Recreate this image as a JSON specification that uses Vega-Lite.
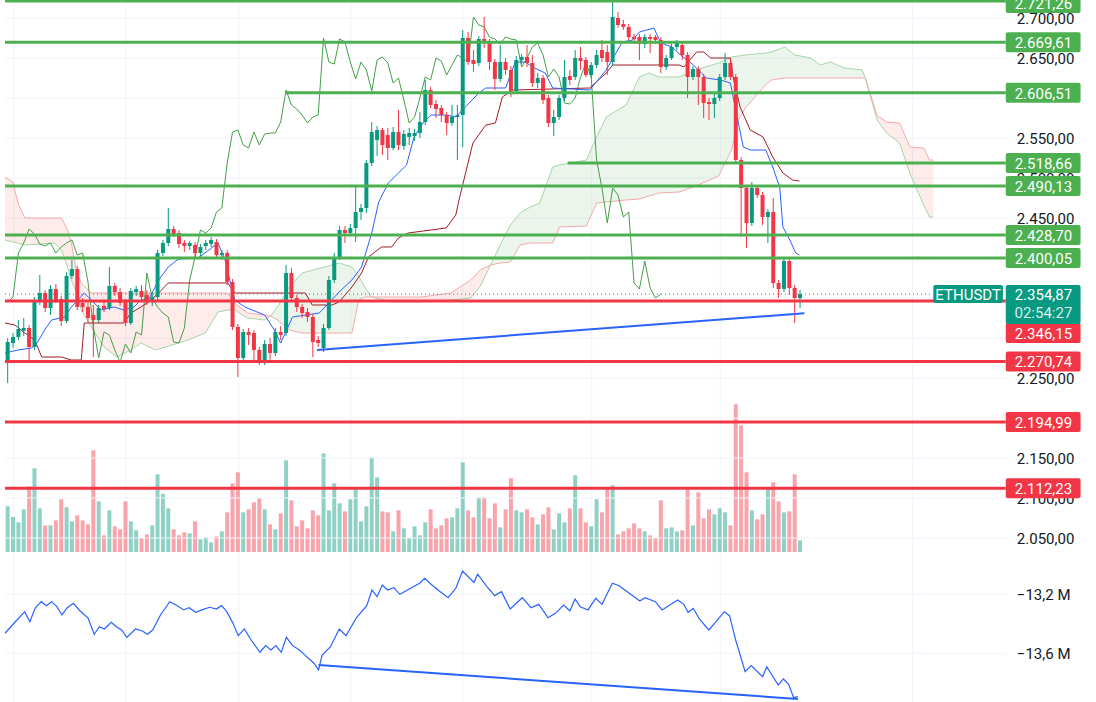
{
"$schema": "https://vega.github.io/schema/vega-lite/v6.json",
"width": 1096,
"height": 702,
"autosize": {"type": "none"},
"padding": 0,
"background": "#ffffff",
"config": {"view": {"stroke": null}},
"datasets": {
"candles": [
{"i":0,"o":2268.75,"h":2300,"l":2243.75,"c":2295,"v":137,"dir":"up","lag":2345},
{"i":1,"o":2293.75,"h":2306.25,"l":2287.5,"c":2301.25,"v":105,"dir":"up","lag":2351.25},
{"i":2,"o":2301.25,"h":2322.5,"l":2297.5,"c":2311.25,"v":89,"dir":"up","lag":2406.25},
{"i":3,"o":2309,"h":2325,"l":2302.5,"c":2312.5,"v":128,"dir":"up","lag":2418.75},
{"i":4,"o":2312.5,"h":2316.25,"l":2270,"c":2288.75,"v":197,"dir":"down","lag":2436.25},
{"i":5,"o":2288.75,"h":2351.25,"l":2285,"c":2347.5,"v":251,"dir":"up","lag":2430},
{"i":6,"o":2345,"h":2378.75,"l":2341.25,"c":2356.25,"v":131,"dir":"up","lag":2417.5},
{"i":7,"o":2356.25,"h":2360,"l":2332.5,"c":2337.5,"v":80,"dir":"down","lag":2415},
{"i":8,"o":2337.5,"h":2366.25,"l":2328.75,"c":2361.25,"v":80,"dir":"up","lag":2418.75},
{"i":9,"o":2361.25,"h":2367.5,"l":2343.75,"c":2347.5,"v":95,"dir":"down","lag":2406.25},
{"i":10,"o":2348.75,"h":2352.5,"l":2315,"c":2321.25,"v":158,"dir":"down","lag":2413.75},
{"i":11,"o":2321.25,"h":2382.5,"l":2318.75,"c":2377.5,"v":134,"dir":"up","lag":2418.75},
{"i":12,"o":2377.5,"h":2397.5,"l":2373.75,"c":2386.25,"v":92,"dir":"up","lag":2422.5},
{"i":13,"o":2386.25,"h":2390,"l":2335,"c":2338.75,"v":110,"dir":"down","lag":2403.75},
{"i":14,"o":2343.75,"h":2350,"l":2332.5,"c":2338.75,"v":95,"dir":"down","lag":2406.25},
{"i":15,"o":2338.75,"h":2343.75,"l":2320,"c":2325,"v":83,"dir":"down","lag":2370},
{"i":16,"o":2328.75,"h":2341.25,"l":2276.25,"c":2322.5,"v":305,"dir":"down","lag":2313.75},
{"i":17,"o":2322.5,"h":2341.25,"l":2318.75,"c":2337.5,"v":152,"dir":"up","lag":2275},
{"i":18,"o":2340,"h":2345,"l":2332.5,"c":2336.25,"v":50,"dir":"down","lag":2307.5},
{"i":19,"o":2337.5,"h":2388.75,"l":2335,"c":2365,"v":125,"dir":"up","lag":2303.75},
{"i":20,"o":2365,"h":2368.75,"l":2352.5,"c":2357.5,"v":77,"dir":"down","lag":2285},
{"i":21,"o":2357.5,"h":2362.5,"l":2340,"c":2343.75,"v":68,"dir":"down","lag":2270},
{"i":22,"o":2345,"h":2348.75,"l":2315,"c":2318.75,"v":152,"dir":"down","lag":2292.5},
{"i":23,"o":2318.75,"h":2362.5,"l":2316.25,"c":2358.75,"v":92,"dir":"up","lag":2281.25},
{"i":24,"o":2357.5,"h":2365,"l":2352.5,"c":2361.25,"v":65,"dir":"up","lag":2307.5},
{"i":25,"o":2358.75,"h":2366.25,"l":2347.5,"c":2351.25,"v":41,"dir":"down","lag":2303.75},
{"i":26,"o":2353.75,"h":2360,"l":2341.25,"c":2345,"v":53,"dir":"down","lag":2381.25},
{"i":27,"o":2345,"h":2357.5,"l":2340,"c":2351.25,"v":80,"dir":"up","lag":2350},
{"i":28,"o":2351.25,"h":2410,"l":2347.5,"c":2406.25,"v":233,"dir":"up","lag":2338.75},
{"i":29,"o":2406.25,"h":2422.5,"l":2402.5,"c":2418.75,"v":175,"dir":"up","lag":2331.25},
{"i":30,"o":2418.75,"h":2462.5,"l":2415,"c":2436.25,"v":131,"dir":"up","lag":2326.25},
{"i":31,"o":2436.25,"h":2440,"l":2426.25,"c":2430,"v":68,"dir":"down","lag":2295},
{"i":32,"o":2431.25,"h":2435,"l":2412.5,"c":2417.5,"v":50,"dir":"down","lag":2293.75},
{"i":33,"o":2418.75,"h":2422.5,"l":2407.5,"c":2415,"v":59,"dir":"down","lag":2312.5},
{"i":34,"o":2415,"h":2421.25,"l":2410,"c":2418.75,"v":56,"dir":"up","lag":2372.5},
{"i":35,"o":2416.25,"h":2420,"l":2400,"c":2406.25,"v":92,"dir":"down","lag":2401.25},
{"i":36,"o":2406.25,"h":2417.5,"l":2402.5,"c":2413.75,"v":38,"dir":"up","lag":2435},
{"i":37,"o":2415,"h":2422.5,"l":2410,"c":2418.75,"v":44,"dir":"up","lag":2431.25},
{"i":38,"o":2417.5,"h":2426.25,"l":2413.75,"c":2422.5,"v":29,"dir":"up","lag":2437.5},
{"i":39,"o":2420,"h":2423.75,"l":2400,"c":2403.75,"v":47,"dir":"down","lag":2457.5},
{"i":40,"o":2403.75,"h":2410,"l":2397.5,"c":2406.25,"v":62,"dir":"up","lag":2462.5},
{"i":41,"o":2406.25,"h":2410,"l":2366.25,"c":2370,"v":119,"dir":"down","lag":2518.75},
{"i":42,"o":2370,"h":2373.75,"l":2310,"c":2313.75,"v":206,"dir":"down","lag":2557.5},
{"i":43,"o":2313.75,"h":2317.5,"l":2251.25,"c":2275,"v":239,"dir":"down","lag":2560},
{"i":44,"o":2275,"h":2311.25,"l":2271.25,"c":2307.5,"v":119,"dir":"up","lag":2541.25},
{"i":45,"o":2307.5,"h":2312.5,"l":2291.25,"c":2303.75,"v":128,"dir":"down","lag":2537.5},
{"i":46,"o":2306.25,"h":2310,"l":2272.5,"c":2285,"v":149,"dir":"down","lag":2557.5},
{"i":47,"o":2285,"h":2288.75,"l":2266.25,"c":2270,"v":161,"dir":"down","lag":2541.25},
{"i":48,"o":2270,"h":2297.5,"l":2266.25,"c":2292.5,"v":128,"dir":"up","lag":2555},
{"i":49,"o":2292.5,"h":2300,"l":2270,"c":2281.25,"v":83,"dir":"down","lag":2556.25},
{"i":50,"o":2281.25,"h":2312.5,"l":2277.5,"c":2307.5,"v":68,"dir":"up","lag":2556.25},
{"i":51,"o":2307.5,"h":2315,"l":2297.5,"c":2303.75,"v":116,"dir":"down","lag":2570},
{"i":52,"o":2306.25,"h":2391.25,"l":2302.5,"c":2381.25,"v":275,"dir":"up","lag":2610},
{"i":53,"o":2381.25,"h":2387.5,"l":2345,"c":2350,"v":155,"dir":"down","lag":2591.25},
{"i":54,"o":2350,"h":2353.75,"l":2332.5,"c":2338.75,"v":77,"dir":"down","lag":2586.25},
{"i":55,"o":2338.75,"h":2342.5,"l":2325,"c":2331.25,"v":95,"dir":"down","lag":2578.75},
{"i":56,"o":2332.5,"h":2337.5,"l":2320,"c":2326.25,"v":71,"dir":"down","lag":2568.75},
{"i":57,"o":2326.25,"h":2330,"l":2276.25,"c":2295,"v":125,"dir":"down","lag":2576.25},
{"i":58,"o":2297.5,"h":2302.5,"l":2288.75,"c":2293.75,"v":110,"dir":"down","lag":2578.75},
{"i":59,"o":2287.5,"h":2317.5,"l":2282.5,"c":2312.5,"v":296,"dir":"up","lag":2675},
{"i":60,"o":2312.5,"h":2377.5,"l":2310,"c":2372.5,"v":125,"dir":"up","lag":2645},
{"i":61,"o":2372.5,"h":2406.25,"l":2368.75,"c":2401.25,"v":206,"dir":"up","lag":2642.5},
{"i":62,"o":2401.25,"h":2440,"l":2397.5,"c":2435,"v":146,"dir":"up","lag":2673.75},
{"i":63,"o":2435,"h":2440,"l":2418.75,"c":2431.25,"v":122,"dir":"down","lag":2670},
{"i":64,"o":2431.25,"h":2442.5,"l":2427.5,"c":2437.5,"v":158,"dir":"up","lag":2645},
{"i":65,"o":2437.5,"h":2491.25,"l":2420,"c":2457.5,"v":194,"dir":"up","lag":2623.75},
{"i":66,"o":2457.5,"h":2467.5,"l":2447.5,"c":2462.5,"v":92,"dir":"up","lag":2645},
{"i":67,"o":2462.5,"h":2522.5,"l":2456.25,"c":2518.75,"v":137,"dir":"up","lag":2635},
{"i":68,"o":2518.75,"h":2570,"l":2515,"c":2557.5,"v":284,"dir":"up","lag":2608.75},
{"i":69,"o":2547.5,"h":2565,"l":2527.5,"c":2560,"v":224,"dir":"up","lag":2647.5},
{"i":70,"o":2560,"h":2562.5,"l":2528.75,"c":2541.25,"v":122,"dir":"down","lag":2651.25},
{"i":71,"o":2553.75,"h":2562.5,"l":2522.5,"c":2537.5,"v":119,"dir":"down","lag":2643.75},
{"i":72,"o":2537.5,"h":2563.75,"l":2535,"c":2557.5,"v":62,"dir":"up","lag":2618.75},
{"i":73,"o":2557.5,"h":2585,"l":2535,"c":2541.25,"v":125,"dir":"down","lag":2625},
{"i":74,"o":2540,"h":2560,"l":2535,"c":2555,"v":71,"dir":"up","lag":2597.5},
{"i":75,"o":2551.25,"h":2562.5,"l":2541.25,"c":2556.25,"v":41,"dir":"up","lag":2568.75},
{"i":76,"o":2552.5,"h":2561.25,"l":2546.25,"c":2556.25,"v":77,"dir":"up","lag":2576.25},
{"i":77,"o":2556.25,"h":2582.5,"l":2550,"c":2570,"v":50,"dir":"up","lag":2600},
{"i":78,"o":2570,"h":2622.5,"l":2566.25,"c":2610,"v":89,"dir":"up","lag":2626.25},
{"i":79,"o":2610,"h":2613.75,"l":2587.5,"c":2591.25,"v":128,"dir":"down","lag":2622.5},
{"i":80,"o":2592.5,"h":2597.5,"l":2575,"c":2586.25,"v":71,"dir":"down","lag":2650},
{"i":81,"o":2587.5,"h":2591.25,"l":2570,"c":2578.75,"v":80,"dir":"down","lag":2646.25},
{"i":82,"o":2578.75,"h":2582.5,"l":2553.75,"c":2568.75,"v":101,"dir":"down","lag":2628.75},
{"i":83,"o":2568.75,"h":2591.25,"l":2565,"c":2576.25,"v":104,"dir":"up","lag":2641.25},
{"i":84,"o":2576.25,"h":2591.25,"l":2522.5,"c":2578.75,"v":131,"dir":"up","lag":2653.75},
{"i":85,"o":2578.75,"h":2685,"l":2538.75,"c":2675,"v":269,"dir":"up","lag":2650},
{"i":86,"o":2675,"h":2682.5,"l":2641.25,"c":2645,"v":125,"dir":"down","lag":2645},
{"i":87,"o":2647.5,"h":2660,"l":2632.5,"c":2642.5,"v":104,"dir":"down","lag":2701.25},
{"i":88,"o":2643.75,"h":2677.5,"l":2640,"c":2673.75,"v":164,"dir":"up","lag":2691.25},
{"i":89,"o":2673.75,"h":2701.25,"l":2662.5,"c":2670,"v":164,"dir":"down","lag":2688.75},
{"i":90,"o":2670,"h":2673.75,"l":2635,"c":2645,"v":101,"dir":"down","lag":2676.25},
{"i":91,"o":2645,"h":2648.75,"l":2610,"c":2623.75,"v":146,"dir":"down","lag":2673.75},
{"i":92,"o":2623.75,"h":2666.25,"l":2620,"c":2645,"v":74,"dir":"up","lag":2667.5},
{"i":93,"o":2645,"h":2650,"l":2628.75,"c":2635,"v":128,"dir":"down","lag":2676.25},
{"i":94,"o":2635,"h":2640,"l":2601.25,"c":2608.75,"v":221,"dir":"down","lag":2673.75},
{"i":95,"o":2608.75,"h":2652.5,"l":2605,"c":2647.5,"v":125,"dir":"up","lag":2672.5},
{"i":96,"o":2647.5,"h":2655,"l":2642.5,"c":2651.25,"v":119,"dir":"up","lag":2638.75},
{"i":97,"o":2651.25,"h":2666.25,"l":2638.75,"c":2643.75,"v":128,"dir":"down","lag":2650},
{"i":98,"o":2643.75,"h":2653.75,"l":2613.75,"c":2618.75,"v":104,"dir":"down","lag":2663.75},
{"i":99,"o":2618.75,"h":2631.25,"l":2612.5,"c":2625,"v":83,"dir":"up","lag":2668.75},
{"i":100,"o":2625,"h":2628.75,"l":2592.5,"c":2597.5,"v":113,"dir":"down","lag":2653.75},
{"i":101,"o":2600,"h":2603.75,"l":2563.75,"c":2568.75,"v":134,"dir":"down","lag":2626.25},
{"i":102,"o":2568.75,"h":2585,"l":2552.5,"c":2576.25,"v":68,"dir":"up","lag":2636.25},
{"i":103,"o":2576.25,"h":2603.75,"l":2572.5,"c":2600,"v":116,"dir":"up","lag":2626.25},
{"i":104,"o":2600,"h":2647.5,"l":2596.25,"c":2626.25,"v":89,"dir":"up","lag":2593.75},
{"i":105,"o":2627.5,"h":2635,"l":2616.25,"c":2622.5,"v":131,"dir":"down","lag":2592.5},
{"i":106,"o":2626.25,"h":2660,"l":2622.5,"c":2650,"v":230,"dir":"up","lag":2600},
{"i":107,"o":2650,"h":2663.75,"l":2635,"c":2646.25,"v":131,"dir":"down","lag":2626.25},
{"i":108,"o":2647.5,"h":2651.25,"l":2626.25,"c":2628.75,"v":89,"dir":"down","lag":2643.75},
{"i":109,"o":2628.75,"h":2645,"l":2625,"c":2641.25,"v":77,"dir":"up","lag":2626.25},
{"i":110,"o":2641.25,"h":2660,"l":2637.5,"c":2653.75,"v":158,"dir":"up","lag":2522.5},
{"i":111,"o":2660,"h":2672.5,"l":2645,"c":2650,"v":119,"dir":"down","lag":2487.5},
{"i":112,"o":2657.5,"h":2666.25,"l":2628.75,"c":2645,"v":188,"dir":"down","lag":2443.75},
{"i":113,"o":2645,"h":2721.25,"l":2640,"c":2701.25,"v":200,"dir":"up","lag":2487.5},
{"i":114,"o":2700,"h":2707.5,"l":2687.5,"c":2691.25,"v":53,"dir":"down","lag":2478.75},
{"i":115,"o":2692.5,"h":2697.5,"l":2685,"c":2688.75,"v":62,"dir":"down","lag":2451.25},
{"i":116,"o":2688.75,"h":2692.5,"l":2672.5,"c":2676.25,"v":71,"dir":"down","lag":2457.5},
{"i":117,"o":2676.25,"h":2680,"l":2667.5,"c":2673.75,"v":86,"dir":"down","lag":2368.75},
{"i":118,"o":2676.25,"h":2680,"l":2647.5,"c":2667.5,"v":71,"dir":"down","lag":2361.25},
{"i":119,"o":2667.5,"h":2680,"l":2662.5,"c":2676.25,"v":62,"dir":"up","lag":2396.25},
{"i":120,"o":2676.25,"h":2680,"l":2656.25,"c":2673.75,"v":50,"dir":"down","lag":2362.5},
{"i":121,"o":2676.25,"h":2678.75,"l":2667.5,"c":2672.5,"v":41,"dir":"down","lag":2350},
{"i":122,"o":2672.5,"h":2676.25,"l":2631.25,"c":2638.75,"v":155,"dir":"down","lag":2354.87},
{"i":123,"o":2638.75,"h":2653.75,"l":2635,"c":2650,"v":71,"dir":"up"},
{"i":124,"o":2650,"h":2667.5,"l":2647.5,"c":2663.75,"v":74,"dir":"up"},
{"i":125,"o":2663.75,"h":2672.5,"l":2660,"c":2668.75,"v":62,"dir":"up"},
{"i":126,"o":2666.25,"h":2670,"l":2647.5,"c":2653.75,"v":65,"dir":"down"},
{"i":127,"o":2653.75,"h":2657.5,"l":2600,"c":2626.25,"v":188,"dir":"down"},
{"i":128,"o":2626.25,"h":2640,"l":2622.5,"c":2636.25,"v":80,"dir":"up"},
{"i":129,"o":2636.25,"h":2640,"l":2591.25,"c":2626.25,"v":179,"dir":"down"},
{"i":130,"o":2626.25,"h":2630,"l":2575,"c":2593.75,"v":101,"dir":"down"},
{"i":131,"o":2595,"h":2600,"l":2572.5,"c":2592.5,"v":128,"dir":"down"},
{"i":132,"o":2592.5,"h":2607.5,"l":2575,"c":2600,"v":113,"dir":"up"},
{"i":133,"o":2600,"h":2630,"l":2596.25,"c":2626.25,"v":131,"dir":"up"},
{"i":134,"o":2626.25,"h":2656.25,"l":2622.5,"c":2643.75,"v":119,"dir":"up"},
{"i":135,"o":2643.75,"h":2647.5,"l":2622.5,"c":2626.25,"v":80,"dir":"down"},
{"i":136,"o":2626.25,"h":2630,"l":2518.75,"c":2522.5,"v":443,"dir":"down"},
{"i":137,"o":2522.5,"h":2526.25,"l":2426.25,"c":2487.5,"v":380,"dir":"down"},
{"i":138,"o":2487.5,"h":2491.25,"l":2412.5,"c":2443.75,"v":239,"dir":"down"},
{"i":139,"o":2443.75,"h":2495,"l":2440,"c":2487.5,"v":125,"dir":"up"},
{"i":140,"o":2487.5,"h":2491.25,"l":2475,"c":2478.75,"v":98,"dir":"down"},
{"i":141,"o":2478.75,"h":2482.5,"l":2441.25,"c":2451.25,"v":113,"dir":"down"},
{"i":142,"o":2451.25,"h":2461.25,"l":2418.75,"c":2457.5,"v":194,"dir":"up"},
{"i":143,"o":2457.5,"h":2475,"l":2362.5,"c":2368.75,"v":209,"dir":"down"},
{"i":144,"o":2368.75,"h":2372.5,"l":2350,"c":2361.25,"v":152,"dir":"down"},
{"i":145,"o":2361.25,"h":2400,"l":2357.5,"c":2396.25,"v":119,"dir":"up"},
{"i":146,"o":2396.25,"h":2401.25,"l":2353.75,"c":2362.5,"v":122,"dir":"down"},
{"i":147,"o":2362.5,"h":2366.25,"l":2318.75,"c":2350,"v":233,"dir":"down"},
{"i":148,"o":2350,"h":2360,"l":2337.5,"c":2354.87,"v":35,"dir":"up"}
],
"tenkan": [
{"i":-0.5,"p":2281.25},{"i":1.91,"p":2285},{"i":4.5,"p":2287.5},{"i":5.6,"p":2295},{"i":6.9,"p":2310},{"i":8.2,"p":2322.5},{"i":10.6,"p":2326.25},{"i":11.9,"p":2338.75},{"i":14.3,"p":2356.25},{"i":15.6,"p":2347.5},{"i":17.45,"p":2335},{"i":19.9,"p":2338.75},{"i":21.7,"p":2335},{"i":23.6,"p":2338.75},{"i":24.9,"p":2347.5},{"i":26.3,"p":2347.5},{"i":28.2,"p":2372.5},{"i":30.0,"p":2388.75},{"i":31.9,"p":2398.75},{"i":35.6,"p":2400},{"i":39.3,"p":2418.75},{"i":40.6,"p":2397.5},{"i":42.4,"p":2347.5},{"i":44.3,"p":2338.75},{"i":48.0,"p":2328.75},{"i":49.8,"p":2310},{"i":51.0,"p":2293.75},{"i":53.2,"p":2326.25},{"i":58.2,"p":2331.25},{"i":60.0,"p":2343.75},{"i":61.9,"p":2357.5},{"i":64.3,"p":2372.5},{"i":66.1,"p":2388.75},{"i":68.0,"p":2431.25},{"i":69.3,"p":2470},{"i":71.1,"p":2493.75},{"i":73.0,"p":2506.25},{"i":74.5,"p":2516.25},{"i":75.9,"p":2551.25},{"i":77.6,"p":2568.75},{"i":79.1,"p":2578.75},{"i":81.9,"p":2578.75},{"i":83.7,"p":2576.25},{"i":88.0,"p":2606.25},{"i":89.3,"p":2612.5},{"i":93.0,"p":2612.5},{"i":94.8,"p":2645},{"i":96.7,"p":2645},{"i":98.0,"p":2638.75},{"i":100.4,"p":2631.25},{"i":101.8,"p":2612.5},{"i":108.7,"p":2610},{"i":111.8,"p":2635},{"i":114.8,"p":2670},{"i":116.7,"p":2672.5},{"i":118.0,"p":2682.5},{"i":120.7,"p":2687.5},{"i":122.0,"p":2668.75},{"i":124.1,"p":2663.75},{"i":125.7,"p":2653.75},{"i":128.1,"p":2641.25},{"i":130.5,"p":2625},{"i":133.1,"p":2622.5},{"i":135.0,"p":2618.75},{"i":136.1,"p":2581.25},{"i":137.4,"p":2538.75},{"i":138.7,"p":2535},{"i":141.6,"p":2535},{"i":142.9,"p":2513.75},{"i":144.2,"p":2488.75},{"i":144.8,"p":2438.75},{"i":146.1,"p":2422.5},{"i":147.2,"p":2406.25},{"i":147.9,"p":2403.75}
],
"kijun": [
{"i":-0.5,"p":2318.75},{"i":1.35,"p":2316.25},{"i":3.2,"p":2306.25},{"i":5.05,"p":2297.5},{"i":6.35,"p":2276.25},{"i":10.05,"p":2276.25},{"i":11.9,"p":2272.5},{"i":13.75,"p":2272.5},{"i":14.3,"p":2318.75},{"i":21.7,"p":2318.75},{"i":23.0,"p":2331.25},{"i":24.9,"p":2338.75},{"i":26.3,"p":2345},{"i":28.2,"p":2356.25},{"i":30.0,"p":2368.75},{"i":41.1,"p":2368.75},{"i":42.4,"p":2356.25},{"i":55.6,"p":2356.25},{"i":56.9,"p":2341.25},{"i":60.6,"p":2341.25},{"i":61.9,"p":2345},{"i":64.3,"p":2363.75},{"i":66.1,"p":2381.25},{"i":67.4,"p":2401.25},{"i":69.8,"p":2413.75},{"i":71.7,"p":2413.75},{"i":73.0,"p":2425},{"i":74.8,"p":2431.25},{"i":81.9,"p":2437.5},{"i":83.7,"p":2453.75},{"i":84.3,"p":2472.5},{"i":86.9,"p":2543.75},{"i":89.3,"p":2566.25},{"i":91.1,"p":2568.75},{"i":92.4,"p":2601.25},{"i":94.3,"p":2610},{"i":108.7,"p":2612.5},{"i":111.8,"p":2631.25},{"i":113.0,"p":2641.25},{"i":125.4,"p":2641.25},{"i":126.3,"p":2638.75},{"i":128.7,"p":2657.5},{"i":130.0,"p":2657.5},{"i":131.3,"p":2650},{"i":135.0,"p":2650},{"i":135.5,"p":2626.25},{"i":136.8,"p":2588.75},{"i":138.7,"p":2560},{"i":141.1,"p":2551.25},{"i":142.9,"p":2526.25},{"i":144.8,"p":2506.25},{"i":146.6,"p":2497.5},{"i":147.9,"p":2496.25}
],
"cloud": [
{"i":-0.5,"a":2422.5,"b":2501.25,"seg":1,"kind":"bear"},{"i":0.98,"a":2420,"b":2495,"seg":1,"kind":"bear"},{"i":1.91,"a":2418.75,"b":2468.75,"seg":1,"kind":"bear"},{"i":3.2,"a":2416.25,"b":2450,"seg":1,"kind":"bear"},{"i":8.75,"a":2418.75,"b":2450,"seg":1,"kind":"bear"},{"i":10.05,"a":2410,"b":2450,"seg":1,"kind":"bear"},{"i":11.2,"a":2388.75,"b":2435,"seg":1,"kind":"bear"},{"i":11.9,"a":2372.5,"b":2418.75,"seg":1,"kind":"bear"},{"i":12.8,"a":2357.5,"b":2385,"seg":1,"kind":"bear"},{"i":13.75,"a":2335,"b":2368.75,"seg":1,"kind":"bear"},{"i":15.6,"a":2313.75,"b":2356.25,"seg":1,"kind":"bear"},{"i":18.0,"a":2288.75,"b":2356.25,"seg":1,"kind":"bear"},{"i":20.4,"a":2276.25,"b":2356.25,"seg":1,"kind":"bear"},{"i":23.0,"a":2285,"b":2356.25,"seg":1,"kind":"bear"},{"i":24.9,"a":2293.75,"b":2356.25,"seg":1,"kind":"bear"},{"i":27.6,"a":2285,"b":2356.25,"seg":1,"kind":"bear"},{"i":33.7,"a":2297.5,"b":2356.25,"seg":1,"kind":"bear"},{"i":36.9,"a":2306.25,"b":2356.25,"seg":1,"kind":"bear"},{"i":39.3,"a":2332.5,"b":2356.25,"seg":1,"kind":"bear"},{"i":41.1,"a":2335,"b":2356.25,"seg":1,"kind":"bear"},{"i":42.4,"a":2335,"b":2343.75,"seg":1,"kind":"bear"},{"i":44.8,"a":2325,"b":2331.25,"seg":1,"kind":"bear"},{"i":48.0,"a":2322.5,"b":2328.75,"seg":1,"kind":"bear"},{"i":49.1,"a":2327.5,"b":2327.5,"seg":1,"kind":"bear"},
{"i":49.1,"a":2327.5,"b":2327.5,"seg":2,"kind":"bull"},{"i":50.4,"a":2338.75,"b":2322.5,"seg":2,"kind":"bull"},{"i":52.6,"a":2363.75,"b":2310,"seg":2,"kind":"bull"},{"i":55.0,"a":2381.25,"b":2306.25,"seg":2,"kind":"bull"},{"i":61.9,"a":2393.75,"b":2306.25,"seg":2,"kind":"bull"},{"i":64.3,"a":2388.75,"b":2306.25,"seg":2,"kind":"bull"},{"i":65.6,"a":2376.25,"b":2347.5,"seg":2,"kind":"bull"},{"i":66.7,"a":2363.75,"b":2351.25,"seg":2,"kind":"bull"},{"i":68.0,"a":2351.25,"b":2351.25,"seg":2,"kind":"bull"},
{"i":68.0,"a":2351.25,"b":2351.25,"seg":3,"kind":"bear"},{"i":71.7,"a":2345,"b":2351.25,"seg":3,"kind":"bear"},{"i":77.2,"a":2345,"b":2351.25,"seg":3,"kind":"bear"},{"i":82.8,"a":2347.5,"b":2356.25,"seg":3,"kind":"bear"},{"i":86.5,"a":2350,"b":2372.5,"seg":3,"kind":"bear"},{"i":88.3,"a":2365,"b":2385,"seg":3,"kind":"bear"},{"i":90.2,"a":2391.25,"b":2391.25,"seg":3,"kind":"bear"},
{"i":90.2,"a":2391.25,"b":2391.25,"seg":4,"kind":"bull"},{"i":92.0,"a":2416.25,"b":2393.75,"seg":4,"kind":"bull"},{"i":93.9,"a":2441.25,"b":2395,"seg":4,"kind":"bull"},{"i":95.7,"a":2456.25,"b":2416.25,"seg":4,"kind":"bull"},{"i":97.6,"a":2463.75,"b":2418.75,"seg":4,"kind":"bull"},{"i":99.4,"a":2468.75,"b":2418.75,"seg":4,"kind":"bull"},{"i":101.8,"a":2513.75,"b":2418.75,"seg":4,"kind":"bull"},{"i":103.1,"a":2516.25,"b":2438.75,"seg":4,"kind":"bull"},{"i":108.1,"a":2522.5,"b":2440,"seg":4,"kind":"bull"},{"i":110.0,"a":2551.25,"b":2468.75,"seg":4,"kind":"bull"},{"i":111.8,"a":2576.25,"b":2470,"seg":4,"kind":"bull"},{"i":115.5,"a":2591.25,"b":2472.5,"seg":4,"kind":"bull"},{"i":118.0,"a":2626.25,"b":2473.75,"seg":4,"kind":"bull"},{"i":119.8,"a":2631.25,"b":2477.5,"seg":4,"kind":"bull"},{"i":121.6,"a":2626.25,"b":2481.25,"seg":4,"kind":"bull"},{"i":125.4,"a":2626.25,"b":2482.5,"seg":4,"kind":"bull"},{"i":128.5,"a":2635,"b":2490,"seg":4,"kind":"bull"},{"i":132.8,"a":2643.75,"b":2502.5,"seg":4,"kind":"bull"},{"i":135.2,"a":2651.25,"b":2535,"seg":4,"kind":"bull"},{"i":136.5,"a":2652.5,"b":2572.5,"seg":4,"kind":"bull"},{"i":137.8,"a":2653.75,"b":2587.5,"seg":4,"kind":"bull"},{"i":141.5,"a":2656.25,"b":2616.25,"seg":4,"kind":"bull"},{"i":142.6,"a":2657.5,"b":2622.5,"seg":4,"kind":"bull"},{"i":145.2,"a":2663.75,"b":2625,"seg":4,"kind":"bull"},{"i":147.0,"a":2653.75,"b":2625,"seg":4,"kind":"bull"},{"i":150.0,"a":2650,"b":2625,"seg":4,"kind":"bull"},{"i":151.8,"a":2641.25,"b":2625,"seg":4,"kind":"bull"},{"i":153.7,"a":2645,"b":2625,"seg":4,"kind":"bull"},{"i":156.3,"a":2637.5,"b":2625,"seg":4,"kind":"bull"},{"i":159.6,"a":2635,"b":2625,"seg":4,"kind":"bull"},{"i":160.2,"a":2625,"b":2625,"seg":4,"kind":"bull"},
{"i":160.2,"a":2625,"b":2625,"seg":5,"kind":"bear"},{"i":162.4,"a":2572.5,"b":2578,"seg":5,"kind":"bear"},{"i":164.2,"a":2556.25,"b":2570,"seg":5,"kind":"bear"},{"i":166.6,"a":2543.75,"b":2568.75,"seg":5,"kind":"bear"},{"i":168.5,"a":2506.25,"b":2538.75,"seg":5,"kind":"bear"},{"i":171.1,"a":2466.25,"b":2537.5,"seg":5,"kind":"bear"},{"i":172.2,"a":2451.25,"b":2522.5,"seg":5,"kind":"bear"},{"i":172.9,"a":2451.25,"b":2522.5,"seg":5,"kind":"bear"}
],
"obv": [
{"i":-0.5,"m":-13.464},{"i":1.44,"m":-13.386},{"i":3.18,"m":-13.318},{"i":4.15,"m":-13.386},{"i":5.11,"m":-13.295},{"i":6.27,"m":-13.25},{"i":7.24,"m":-13.277},{"i":8.22,"m":-13.25},{"i":9.18,"m":-13.284},{"i":10.14,"m":-13.34},{"i":11.12,"m":-13.291},{"i":12.27,"m":-13.261},{"i":13.53,"m":-13.313},{"i":14.99,"m":-13.359},{"i":16.16,"m":-13.471},{"i":17.12,"m":-13.42},{"i":18.08,"m":-13.435},{"i":19.34,"m":-13.39},{"i":20.3,"m":-13.42},{"i":21.28,"m":-13.442},{"i":22.25,"m":-13.492},{"i":23.89,"m":-13.435},{"i":25.15,"m":-13.449},{"i":26.11,"m":-13.471},{"i":27.08,"m":-13.442},{"i":28.54,"m":-13.34},{"i":30.28,"m":-13.25},{"i":31.44,"m":-13.273},{"i":32.89,"m":-13.306},{"i":33.87,"m":-13.291},{"i":35.13,"m":-13.322},{"i":36.28,"m":-13.306},{"i":37.74,"m":-13.288},{"i":38.99,"m":-13.3},{"i":39.96,"m":-13.277},{"i":40.92,"m":-13.318},{"i":42.09,"m":-13.397},{"i":43.07,"m":-13.481},{"i":44.22,"m":-13.435},{"i":45.47,"m":-13.51},{"i":47.12,"m":-13.593},{"i":48.19,"m":-13.548},{"i":49.16,"m":-13.578},{"i":50.12,"m":-13.548},{"i":51.1,"m":-13.593},{"i":52.06,"m":-13.492},{"i":53.23,"m":-13.548},{"i":54.49,"m":-13.578},{"i":55.63,"m":-13.616},{"i":56.62,"m":-13.647},{"i":57.39,"m":-13.675},{"i":58.06,"m":-13.713},{"i":58.74,"m":-13.612},{"i":60.3,"m":-13.555},{"i":61.93,"m":-13.435},{"i":63.19,"m":-13.481},{"i":65.13,"m":-13.359},{"i":67.07,"m":-13.277},{"i":68.04,"m":-13.171},{"i":69.0,"m":-13.216},{"i":69.98,"m":-13.137},{"i":70.94,"m":-13.171},{"i":72.11,"m":-13.155},{"i":73.26,"m":-13.2},{"i":75.01,"m":-13.164},{"i":76.94,"m":-13.125},{"i":77.9,"m":-13.092},{"i":79.07,"m":-13.132},{"i":80.62,"m":-13.178},{"i":82.27,"m":-13.223},{"i":83.71,"m":-13.159},{"i":84.97,"m":-13.042},{"i":87.1,"m":-13.119},{"i":87.78,"m":-13.064},{"i":89.52,"m":-13.148},{"i":90.97,"m":-13.209},{"i":92.23,"m":-13.182},{"i":93.87,"m":-13.3},{"i":96.11,"m":-13.223},{"i":97.76,"m":-13.291},{"i":99.2,"m":-13.268},{"i":100.94,"m":-13.359},{"i":102.29,"m":-13.329},{"i":103.85,"m":-13.273},{"i":105.01,"m":-13.313},{"i":105.98,"m":-13.232},{"i":106.94,"m":-13.284},{"i":108.4,"m":-13.306},{"i":109.85,"m":-13.227},{"i":111.01,"m":-13.268},{"i":112.95,"m":-13.125},{"i":114.21,"m":-13.142},{"i":118.08,"m":-13.245},{"i":119.04,"m":-13.223},{"i":120.99,"m":-13.25},{"i":122.24,"m":-13.306},{"i":123.89,"m":-13.268},{"i":125.15,"m":-13.239},{"i":126.3,"m":-13.268},{"i":127.08,"m":-13.322},{"i":128.06,"m":-13.295},{"i":129.2,"m":-13.367},{"i":130.96,"m":-13.442},{"i":132.31,"m":-13.386},{"i":133.85,"m":-13.318},{"i":134.83,"m":-13.345},{"i":135.98,"m":-13.51},{"i":137.74,"m":-13.725},{"i":138.88,"m":-13.684},{"i":141.01,"m":-13.759},{"i":141.79,"m":-13.691},{"i":143.92,"m":-13.815},{"i":144.9,"m":-13.774},{"i":145.86,"m":-13.81},{"i":146.82,"m":-13.901},{"i":147.6,"m":-13.894}
],
"obvtrend": [{"i":58.06,"m":-13.679},{"i":147.6,"m":-13.91}],
"trend": [{"i":57.8,"p":2285},{"i":148.8,"p":2331}],
"levels": [
{"price":2721.26,"label":"2.721,26","kind":"res","start":-0.5},{"price":2669.61,"label":"2.669,61","kind":"res","start":-0.5},{"price":2606.51,"label":"2.606,51","kind":"res","start":51.9},{"price":2518.66,"label":"2.518,66","kind":"res","start":104.6},{"price":2490.13,"label":"2.490,13","kind":"res","start":-0.5},{"price":2428.70,"label":"2.428,70","kind":"res","start":-0.5},{"price":2400.05,"label":"2.400,05","kind":"res","start":-0.5},{"price":2346.15,"label":"2.346,15","kind":"sup","start":-0.5},{"price":2270.74,"label":"2.270,74","kind":"sup","start":-0.5},{"price":2194.99,"label":"2.194,99","kind":"sup","start":-0.5},{"price":2112.23,"label":"2.112,23","kind":"sup","start":-0.5}
],
"last": [{"price":2354.87,"label":"2.354,87","sym":"ETHUSDT","timer":"02:54:27"}],
"vgrid": [{"i":1.2},{"i":22.1},{"i":43.2},{"i":64.1},{"i":85.0},{"i":109.1},{"i":133.1},{"i":169.0}],
"pgrid": [{"p":2050},{"p":2100},{"p":2150},{"p":2200},{"p":2250},{"p":2300},{"p":2350},{"p":2400},{"p":2450},{"p":2500},{"p":2550},{"p":2600},{"p":2650},{"p":2700}],
"plabels": [{"p":2050,"label":"2.050,00"},{"p":2100,"label":"2.100,00"},{"p":2150,"label":"2.150,00"},{"p":2250,"label":"2.250,00"},{"p":2450,"label":"2.450,00"},{"p":2500,"label":"2.500,00"},{"p":2550,"label":"2.550,00"},{"p":2650,"label":"2.650,00"},{"p":2700,"label":"2.700,00"}],
"ogrid": [{"m":-13.2,"label":"−13,2 M"},{"m":-13.6,"label":"−13,6 M"}]
},
"layer": [
  {"data": {"name": "vgrid"}, "mark": {"type": "rule", "color": "#F0F3FA", "strokeWidth": 1},
   "encoding": {"x": {"field": "i", "type": "quantitative", "scale": {"domain": [-0.5, 202.35], "nice": false, "zero": false}, "axis": null}}},
  {"data": {"name": "candles"}, "mark": {"type": "bar", "width": 4, "opacity": 0.45},
   "encoding": {
     "x": {"field": "i", "type": "quantitative", "scale": {"domain": [-0.5, 202.35], "nice": false, "zero": false}, "axis": null},
     "y": {"field": "v", "type": "quantitative", "scale": {"domain": [-450, 1656], "nice": false, "zero": false}, "axis": null},
     "y2": {"datum": 0},
     "color": {"field": "dir", "type": "nominal", "scale": {"domain": ["up","down","res","sup","bull","bear"], "range": ["#089981","#F23645","#4CAF50","#F23645","#43A047","#F44336"]}, "legend": null}
   }},
  {"layer": [
    {"data": {"name": "pgrid"}, "mark": {"type": "rule", "color": "#F0F3FA", "strokeWidth": 1},
     "encoding": {
       "x": {"datum": -0.5, "type": "quantitative", "axis": null}, "x2": {"datum": 186.43},
       "y": {"field": "p", "type": "quantitative", "scale": {"domain": [1845, 2722.5], "nice": false, "zero": false}, "axis": null}
     }},
    {"data": {"name": "plabels"}, "mark": {"type": "text", "font": "Roboto", "fontSize": 15, "fill": "#131722", "align": "left", "baseline": "middle", "yOffset": 1},
     "encoding": {
       "x": {"datum": 188.5, "type": "quantitative", "axis": null},
       "y": {"field": "p", "type": "quantitative", "scale": {"domain": [1845, 2722.5], "nice": false, "zero": false}, "axis": null},
       "text": {"field": "label"}
     }},
    {"data": {"name": "cloud"}, "mark": {"type": "area", "fillOpacity": 0.1},
     "encoding": {
       "x": {"field": "i", "type": "quantitative", "scale": {"domain": [-0.5, 202.35], "nice": false, "zero": false}, "axis": null},
       "y": {"field": "a", "type": "quantitative", "stack": null, "scale": {"domain": [1845, 2722.5], "nice": false, "zero": false}, "axis": null},
       "y2": {"field": "b"},
       "detail": {"field": "seg"},
       "color": {"field": "kind", "type": "nominal", "scale": {"domain": ["up","down","res","sup","bull","bear"], "range": ["#089981","#F23645","#4CAF50","#F23645","#43A047","#F44336"]}, "legend": null}
     }},
    {"data": {"name": "cloud"}, "mark": {"type": "line", "color": "#A5D6A7", "strokeWidth": 1},
     "encoding": {"x": {"field": "i", "type": "quantitative", "axis": null}, "y": {"field": "a", "type": "quantitative", "scale": {"domain": [1845, 2722.5], "nice": false, "zero": false}, "axis": null}}},
    {"data": {"name": "cloud"}, "mark": {"type": "line", "color": "#F5A9A9", "strokeWidth": 1},
     "encoding": {"x": {"field": "i", "type": "quantitative", "axis": null}, "y": {"field": "b", "type": "quantitative", "scale": {"domain": [1845, 2722.5], "nice": false, "zero": false}, "axis": null}}},
    {"data": {"name": "candles"}, "mark": {"type": "line", "color": "#43A047", "strokeWidth": 1},
     "encoding": {"x": {"field": "i", "type": "quantitative", "axis": null}, "y": {"field": "lag", "type": "quantitative", "scale": {"domain": [1845, 2722.5], "nice": false, "zero": false}, "axis": null}}},
    {"data": {"name": "kijun"}, "mark": {"type": "line", "color": "#A31D24", "strokeWidth": 1},
     "encoding": {"x": {"field": "i", "type": "quantitative", "axis": null}, "y": {"field": "p", "type": "quantitative", "scale": {"domain": [1845, 2722.5], "nice": false, "zero": false}, "axis": null}}},
    {"data": {"name": "tenkan"}, "mark": {"type": "line", "color": "#2962FF", "strokeWidth": 1},
     "encoding": {"x": {"field": "i", "type": "quantitative", "axis": null}, "y": {"field": "p", "type": "quantitative", "scale": {"domain": [1845, 2722.5], "nice": false, "zero": false}, "axis": null}}},
    {"data": {"name": "candles"}, "mark": {"type": "rule", "strokeWidth": 1},
     "encoding": {
       "x": {"field": "i", "type": "quantitative", "axis": null},
       "y": {"field": "l", "type": "quantitative", "scale": {"domain": [1845, 2722.5], "nice": false, "zero": false}, "axis": null},
       "y2": {"field": "h"},
       "color": {"field": "dir", "type": "nominal", "scale": {"domain": ["up","down","res","sup","bull","bear"], "range": ["#089981","#F23645","#4CAF50","#F23645","#43A047","#F44336"]}, "legend": null}
     }},
    {"data": {"name": "candles"}, "mark": {"type": "bar", "width": 4},
     "encoding": {
       "x": {"field": "i", "type": "quantitative", "axis": null},
       "y": {"field": "o", "type": "quantitative", "scale": {"domain": [1845, 2722.5], "nice": false, "zero": false}, "axis": null},
       "y2": {"field": "c"},
       "color": {"field": "dir", "type": "nominal", "scale": {"domain": ["up","down","res","sup","bull","bear"], "range": ["#089981","#F23645","#4CAF50","#F23645","#43A047","#F44336"]}, "legend": null}
     }},
    {"data": {"name": "levels"}, "mark": {"type": "rule", "strokeWidth": 3},
     "encoding": {
       "x": {"field": "start", "type": "quantitative", "axis": null},
       "x2": {"datum": 186.43},
       "y": {"field": "price", "type": "quantitative", "scale": {"domain": [1845, 2722.5], "nice": false, "zero": false}, "axis": null},
       "color": {"field": "kind", "type": "nominal", "scale": {"domain": ["up","down","res","sup","bull","bear"], "range": ["#089981","#F23645","#4CAF50","#F23645","#43A047","#F44336"]}, "legend": null}
     }},
    {"data": {"name": "last"}, "mark": {"type": "rule", "color": "#089981", "strokeWidth": 1, "strokeDash": [1, 3]},
     "encoding": {
       "x": {"datum": -0.5, "type": "quantitative", "axis": null}, "x2": {"datum": 172.9},
       "y": {"field": "price", "type": "quantitative", "scale": {"domain": [1845, 2722.5], "nice": false, "zero": false}, "axis": null}
     }},
    {"data": {"name": "trend"}, "mark": {"type": "line", "color": "#2962FF", "strokeWidth": 2},
     "encoding": {"x": {"field": "i", "type": "quantitative", "axis": null}, "y": {"field": "p", "type": "quantitative", "scale": {"domain": [1845, 2722.5], "nice": false, "zero": false}, "axis": null}}},
    {"data": {"name": "levels"}, "transform": [{"filter": "datum.price != 2346.15 && datum.price != 2721.26"}],
     "mark": {"type": "rect", "cornerRadius": 2, "yOffset": -10, "y2Offset": 10},
     "encoding": {
       "x": {"datum": 186.43, "type": "quantitative", "axis": null}, "x2": {"datum": 200.4},
       "y": {"field": "price", "type": "quantitative", "scale": {"domain": [1845, 2722.5], "nice": false, "zero": false}, "axis": null},
       "y2": {"field": "price"},
       "color": {"field": "kind", "type": "nominal", "scale": {"domain": ["up","down","res","sup","bull","bear"], "range": ["#089981","#F23645","#4CAF50","#F23645","#43A047","#F44336"]}, "legend": null}
     }},
    {"data": {"name": "levels"}, "transform": [{"filter": "datum.price != 2346.15 && datum.price != 2721.26"}],
     "mark": {"type": "text", "font": "Roboto", "fontSize": 15, "fill": "#ffffff", "align": "center", "baseline": "middle", "yOffset": 1},
     "encoding": {
       "x": {"datum": 193.46, "type": "quantitative", "axis": null},
       "y": {"field": "price", "type": "quantitative", "scale": {"domain": [1845, 2722.5], "nice": false, "zero": false}, "axis": null},
       "text": {"field": "label"}
     }},
    {"data": {"name": "levels"}, "transform": [{"filter": "datum.price == 2721.26"}],
     "mark": {"type": "rect", "cornerRadius": 2, "yOffset": -9, "y2Offset": 12, "fill": "#4CAF50"},
     "encoding": {
       "x": {"datum": 186.43, "type": "quantitative", "axis": null}, "x2": {"datum": 200.4},
       "y": {"field": "price", "type": "quantitative", "scale": {"domain": [1845, 2722.5], "nice": false, "zero": false}, "axis": null},
       "y2": {"field": "price"}
     }},
    {"data": {"name": "levels"}, "transform": [{"filter": "datum.price == 2721.26"}],
     "mark": {"type": "text", "font": "Roboto", "fontSize": 15, "fill": "#ffffff", "align": "center", "baseline": "middle", "yOffset": 3},
     "encoding": {
       "x": {"datum": 193.46, "type": "quantitative", "axis": null},
       "y": {"field": "price", "type": "quantitative", "scale": {"domain": [1845, 2722.5], "nice": false, "zero": false}, "axis": null},
       "text": {"field": "label"}
     }},
    {"data": {"name": "levels"}, "transform": [{"filter": "datum.price == 2346.15"}],
     "mark": {"type": "rect", "cornerRadius": 2, "yOffset": 22, "y2Offset": 42, "fill": "#F23645"},
     "encoding": {
       "x": {"datum": 186.43, "type": "quantitative", "axis": null}, "x2": {"datum": 200.4},
       "y": {"field": "price", "type": "quantitative", "scale": {"domain": [1845, 2722.5], "nice": false, "zero": false}, "axis": null},
       "y2": {"field": "price"}
     }},
    {"data": {"name": "levels"}, "transform": [{"filter": "datum.price == 2346.15"}],
     "mark": {"type": "text", "font": "Roboto", "fontSize": 15, "fill": "#ffffff", "align": "center", "baseline": "middle", "yOffset": 33},
     "encoding": {
       "x": {"datum": 193.46, "type": "quantitative", "axis": null},
       "y": {"field": "price", "type": "quantitative", "scale": {"domain": [1845, 2722.5], "nice": false, "zero": false}, "axis": null},
       "text": {"field": "label"}
     }},
    {"data": {"name": "last"}, "mark": {"type": "rect", "cornerRadius": 2, "yOffset": -9, "y2Offset": 9, "fill": "#089981"},
     "encoding": {
       "x": {"datum": 172.9, "type": "quantitative", "axis": null}, "x2": {"datum": 185.9},
       "y": {"field": "price", "type": "quantitative", "scale": {"domain": [1845, 2722.5], "nice": false, "zero": false}, "axis": null},
       "y2": {"field": "price"}
     }},
    {"data": {"name": "last"}, "mark": {"type": "text", "font": "Roboto", "fontSize": 15, "fill": "#ffffff", "align": "center", "baseline": "middle", "yOffset": 1},
     "encoding": {
       "x": {"datum": 179.4, "type": "quantitative", "axis": null},
       "y": {"field": "price", "type": "quantitative", "scale": {"domain": [1845, 2722.5], "nice": false, "zero": false}, "axis": null},
       "text": {"field": "sym"}
     }},
    {"data": {"name": "last"}, "mark": {"type": "rect", "cornerRadius": 2, "yOffset": -9, "y2Offset": 30, "fill": "#089981"},
     "encoding": {
       "x": {"datum": 186.43, "type": "quantitative", "axis": null}, "x2": {"datum": 200.4},
       "y": {"field": "price", "type": "quantitative", "scale": {"domain": [1845, 2722.5], "nice": false, "zero": false}, "axis": null},
       "y2": {"field": "price"}
     }},
    {"data": {"name": "last"}, "mark": {"type": "text", "font": "Roboto", "fontSize": 15, "fill": "#ffffff", "align": "center", "baseline": "middle", "yOffset": 1},
     "encoding": {
       "x": {"datum": 193.46, "type": "quantitative", "axis": null},
       "y": {"field": "price", "type": "quantitative", "scale": {"domain": [1845, 2722.5], "nice": false, "zero": false}, "axis": null},
       "text": {"field": "label"}
     }},
    {"data": {"name": "last"}, "mark": {"type": "text", "font": "Roboto", "fontSize": 15, "fill": "#ffffff", "fillOpacity": 0.85, "align": "center", "baseline": "middle", "yOffset": 19},
     "encoding": {
       "x": {"datum": 193.46, "type": "quantitative", "axis": null},
       "y": {"field": "price", "type": "quantitative", "scale": {"domain": [1845, 2722.5], "nice": false, "zero": false}, "axis": null},
       "text": {"field": "timer"}
     }}
  ]},
  {"layer": [
    {"data": {"name": "ogrid"}, "mark": {"type": "rule", "color": "#F0F3FA", "strokeWidth": 1},
     "encoding": {
       "x": {"datum": -0.5, "type": "quantitative", "axis": null}, "x2": {"datum": 186.43},
       "y": {"field": "m", "type": "quantitative", "scale": {"domain": [-13.9302, -9.1706], "nice": false, "zero": false}, "axis": null}
     }},
    {"data": {"name": "ogrid"}, "mark": {"type": "text", "font": "Roboto", "fontSize": 15, "fill": "#131722", "align": "left", "baseline": "middle", "yOffset": 1},
     "encoding": {
       "x": {"datum": 188.5, "type": "quantitative", "axis": null},
       "y": {"field": "m", "type": "quantitative", "scale": {"domain": [-13.9302, -9.1706], "nice": false, "zero": false}, "axis": null},
       "text": {"field": "label"}
     }},
    {"data": {"name": "obv"}, "mark": {"type": "line", "color": "#2962FF", "strokeWidth": 1.2},
     "encoding": {
       "x": {"field": "i", "type": "quantitative", "axis": null},
       "y": {"field": "m", "type": "quantitative", "scale": {"domain": [-13.9302, -9.1706], "nice": false, "zero": false}, "axis": null}}},
    {"data": {"name": "obvtrend"}, "mark": {"type": "line", "color": "#2962FF", "strokeWidth": 2},
     "encoding": {"x": {"field": "i", "type": "quantitative", "axis": null}, "y": {"field": "m", "type": "quantitative", "scale": {"domain": [-13.9302, -9.1706], "nice": false, "zero": false}, "axis": null}}}
  ]}
],
"resolve": {"scale": {"y": "independent"}}
}
